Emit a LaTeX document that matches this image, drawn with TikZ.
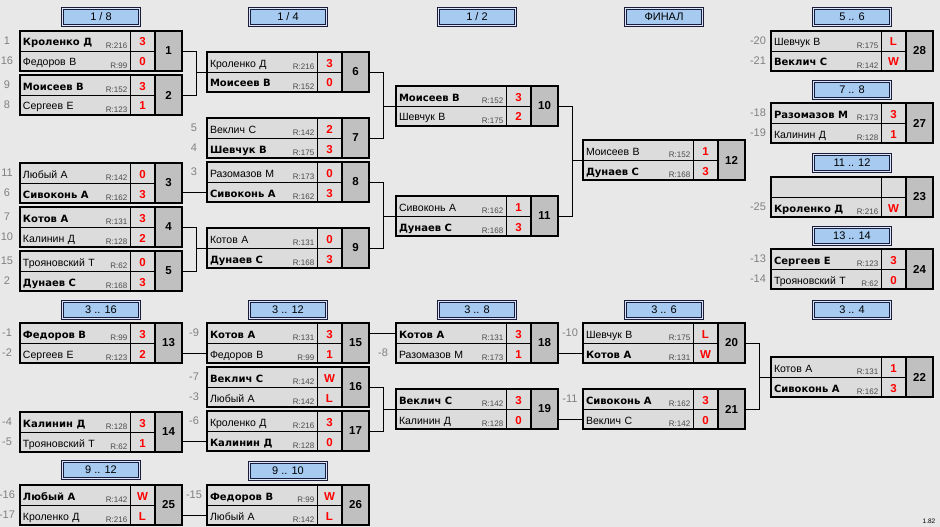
\documentclass[tikz,border=0pt]{standalone}
\usepackage{fontspec}
\setmainfont{Liberation Sans}
\newfontfamily\widefont{DejaVu Sans}
\usetikzlibrary{positioning}
\definecolor{bggray}{HTML}{E8E8E8}
\definecolor{cellgray}{HTML}{DCDCDC}
\definecolor{numgray}{HTML}{C0C0C0}
\definecolor{headblue}{HTML}{A6CAF0}
\definecolor{headline}{HTML}{1A1A3A}
\definecolor{seedgray}{HTML}{808080}
\definecolor{ratgray}{HTML}{4A4A4A}
\tikzset{
  namecell/.style = {draw, line width=0.8pt, fill=cellgray, anchor=north west,
    text width=104pt, align=left, inner xsep=3pt, inner ysep=0pt, outer sep=0pt,
    minimum height=20pt, text height=10pt, text depth=0pt,
    font=\fontsize{10.5}{12}\selectfont},
  scorecell/.style = {draw, line width=0.8pt, fill=cellgray, text=red,
    inner sep=0pt, outer sep=0pt, minimum width=25pt, minimum height=20pt,
    text height=10pt, text depth=0pt, font=\fontsize{11.5}{12}\selectfont\bfseries},
  numcell/.style = {draw, line width=2pt, fill=numgray, anchor=north west,
    inner sep=0pt, outer sep=0pt, minimum width=27pt, minimum height=40pt,
    font=\fontsize{11.5}{12}\selectfont\bfseries},
  matchbox/.style = {draw, line width=2pt, anchor=north west, inner sep=0pt,
    outer sep=0pt, minimum width=162pt, minimum height=40pt},
  rating/.style = {anchor=base east, xshift=-2.5pt, yshift=2.5pt, inner sep=0pt,
    text=ratgray, font=\fontsize{8}{9}\selectfont},
  seed/.style = {xshift=-13pt, text=seedgray, inner sep=0pt, text height=7.5pt,
    text depth=0pt, font=\fontsize{11}{12}\selectfont},
  header/.style = {draw=headline, line width=1pt, fill=white!55!headblue,
    minimum width=79pt, minimum height=19pt, inner sep=0pt,
    font=\fontsize{11}{12}\selectfont,
    path picture={\draw[headline, fill=headblue, line width=1pt]
      ([shift={(2pt,-2pt)}]path picture bounding box.north west) rectangle
      ([shift={(-2pt,2pt)}]path picture bounding box.south east);}},
  link/.style = {draw, line width=0.8pt},
}
\newcommand\win[1]{{\widefont\fontsize{10}{12}\selectfont\bfseries #1}}
\newcommand\rat[1]{\if\relax\detokenize{#1}\relax\else R:#1\fi}
% number, x, y, player 1, rating 1, score 1, player 2, rating 2, score 2
\newcommand\match[9]{%
  \node[namecell] (m#1a) at (#2,#3) {#4};
  \node[namecell, below=0pt of m#1a] (m#1b) {#7};
  \node[scorecell, right=0pt of m#1a] (m#1as) {#6};
  \node[scorecell, right=0pt of m#1b] (m#1bs) {#9};
  \node[numcell] (m#1n) at (m#1as.north east) {#1};
  \node[rating] (m#1ar) at (m#1a.south east) {\rat{#5}};
  \node[rating] (m#1br) at (m#1b.south east) {\rat{#8}};
  \node[matchbox] (m#1) at (#2,#3) {};
}

\begin{document}
\begin{tikzpicture}[x=1pt,y=-1pt]
  % background
  \fill[bggray] (0,0) rectangle (940,527);
  \useasboundingbox (0,0) rectangle (940,527);
  % stage titles
  \node[header] (h18) at (101,17) {1 / 8};
  \node[header] (h14) at (288,17) {1 / 4};
  \node[header] (h12) at (477,17) {1 / 2};
  \node[header] (hfin) at (664,17) {ФИНАЛ};
  \node[header] (h56) at (852,17) {5 .. 6};
  \node[header] (h78) at (852,90) {7 .. 8};
  \node[header] (h1112) at (852,163) {11 .. 12};
  \node[header] (h1314) at (852,236) {13 .. 14};
  \node[header] (h316) at (101,310) {3 .. 16};
  \node[header] (h912) at (101,470) {9 .. 12};
  \node[header] (h312) at (288,310) {3 .. 12};
  \node[header] (h910) at (288,471) {9 .. 10};
  \node[header] (h38) at (477,310) {3 .. 8};
  \node[header] (h36) at (664,310) {3 .. 6};
  \node[header] (h34) at (852,310) {3 .. 4};
  % 1/8
  \match{1}{20}{31}{\win{Кроленко Д}}{216}{3}{Федоров В}{99}{0}
  \match{2}{20}{75}{\win{Моисеев В}}{152}{3}{Сергеев Е}{123}{1}
  \match{3}{20}{163}{Любый А}{142}{0}{\win{Сивоконь А}}{162}{3}
  \match{4}{20}{207}{\win{Котов А}}{131}{3}{Калинин Д}{128}{2}
  \match{5}{20}{251}{Трояновский Т}{62}{0}{\win{Дунаев С}}{168}{3}
  % 1/4
  \match{6}{207}{52}{Кроленко Д}{216}{3}{\win{Моисеев В}}{152}{0}
  \match{7}{207}{118}{Веклич С}{142}{2}{\win{Шевчук В}}{175}{3}
  \match{8}{207}{162}{Разомазов М}{173}{0}{\win{Сивоконь А}}{162}{3}
  \match{9}{207}{228}{Котов А}{131}{0}{\win{Дунаев С}}{168}{3}
  % 1/2 and final
  \match{10}{396}{86}{\win{Моисеев В}}{152}{3}{Шевчук В}{175}{2}
  \match{11}{396}{196}{Сивоконь А}{162}{1}{\win{Дунаев С}}{168}{3}
  \match{12}{583}{140}{Моисеев В}{152}{1}{\win{Дунаев С}}{168}{3}
  % places 3..16
  \match{13}{20}{323}{\win{Федоров В}}{99}{3}{Сергеев Е}{123}{2}
  \match{14}{20}{412}{\win{Калинин Д}}{128}{3}{Трояновский Т}{62}{1}
  \match{15}{207}{323}{\win{Котов А}}{131}{3}{Федоров В}{99}{1}
  \match{16}{207}{367}{\win{Веклич С}}{142}{W}{Любый А}{142}{L}
  \match{17}{207}{411}{Кроленко Д}{216}{3}{\win{Калинин Д}}{128}{0}
  \match{18}{396}{323}{\win{Котов А}}{131}{3}{Разомазов М}{173}{1}
  \match{19}{396}{389}{\win{Веклич С}}{142}{3}{Калинин Д}{128}{0}
  \match{20}{583}{323}{Шевчук В}{175}{L}{\win{Котов А}}{131}{W}
  \match{21}{583}{389}{\win{Сивоконь А}}{162}{3}{Веклич С}{142}{0}
  \match{22}{771}{357}{Котов А}{131}{1}{\win{Сивоконь А}}{162}{3}
  % places 5..14
  \match{23}{771}{177}{}{}{}{\win{Кроленко Д}}{216}{W}
  \match{24}{771}{249}{\win{Сергеев Е}}{123}{3}{Трояновский Т}{62}{0}
  \match{25}{20}{485}{\win{Любый А}}{142}{W}{Кроленко Д}{216}{L}
  \match{26}{207}{485}{\win{Федоров В}}{99}{W}{Любый А}{142}{L}
  \match{27}{771}{103}{\win{Разомазов М}}{173}{3}{Калинин Д}{128}{1}
  \match{28}{771}{31}{Шевчук В}{175}{L}{\win{Веклич С}}{142}{W}
  % seeds
  \foreach \c/\s in {m1a/1, m1b/16, m2a/9, m2b/8, m3a/11, m3b/6, m4a/7, m4b/10,
    m5a/15, m5b/2, m13a/-1, m13b/-2, m14a/-4, m14b/-5, m25a/-16, m25b/-17,
    m7a/5, m7b/4, m8a/3, m15a/-9, m16a/-7, m16b/-3, m17a/-6, m26a/-15,
    m18b/-8, m20a/-10, m21a/-11, m28a/-20, m28b/-21, m27a/-18, m27b/-19,
    m23b/-25, m24a/-13, m24b/-14}
    \node[seed] (s-\c) at (\c.west) {\s};
  % brackets
  \foreach \a/\b/\t in {1/2/6, 4/5/9, 6/7/10, 8/9/11, 10/11/12, 16/17/19, 20/21/22} {
    \draw[link] (m\a.east) -- ++(14,0) coordinate (j\t) |- (m\b.east);
    \draw[link] (j\t |- m\t.west) -- (m\t.west);
  }
  % straight links
  \foreach \a/\t in {3/m8b, 13/m15b, 14/m17b, 25/m26b, 15/m18a, 18/m20b, 19/m21b}
    \draw[link] (m\a.east |- \t.west) -- (\t.west);
  % version
  \node[font=\fontsize{6.5}{7}\selectfont] (ver) at (929,521) {1.82};
\end{tikzpicture}
\end{document}
